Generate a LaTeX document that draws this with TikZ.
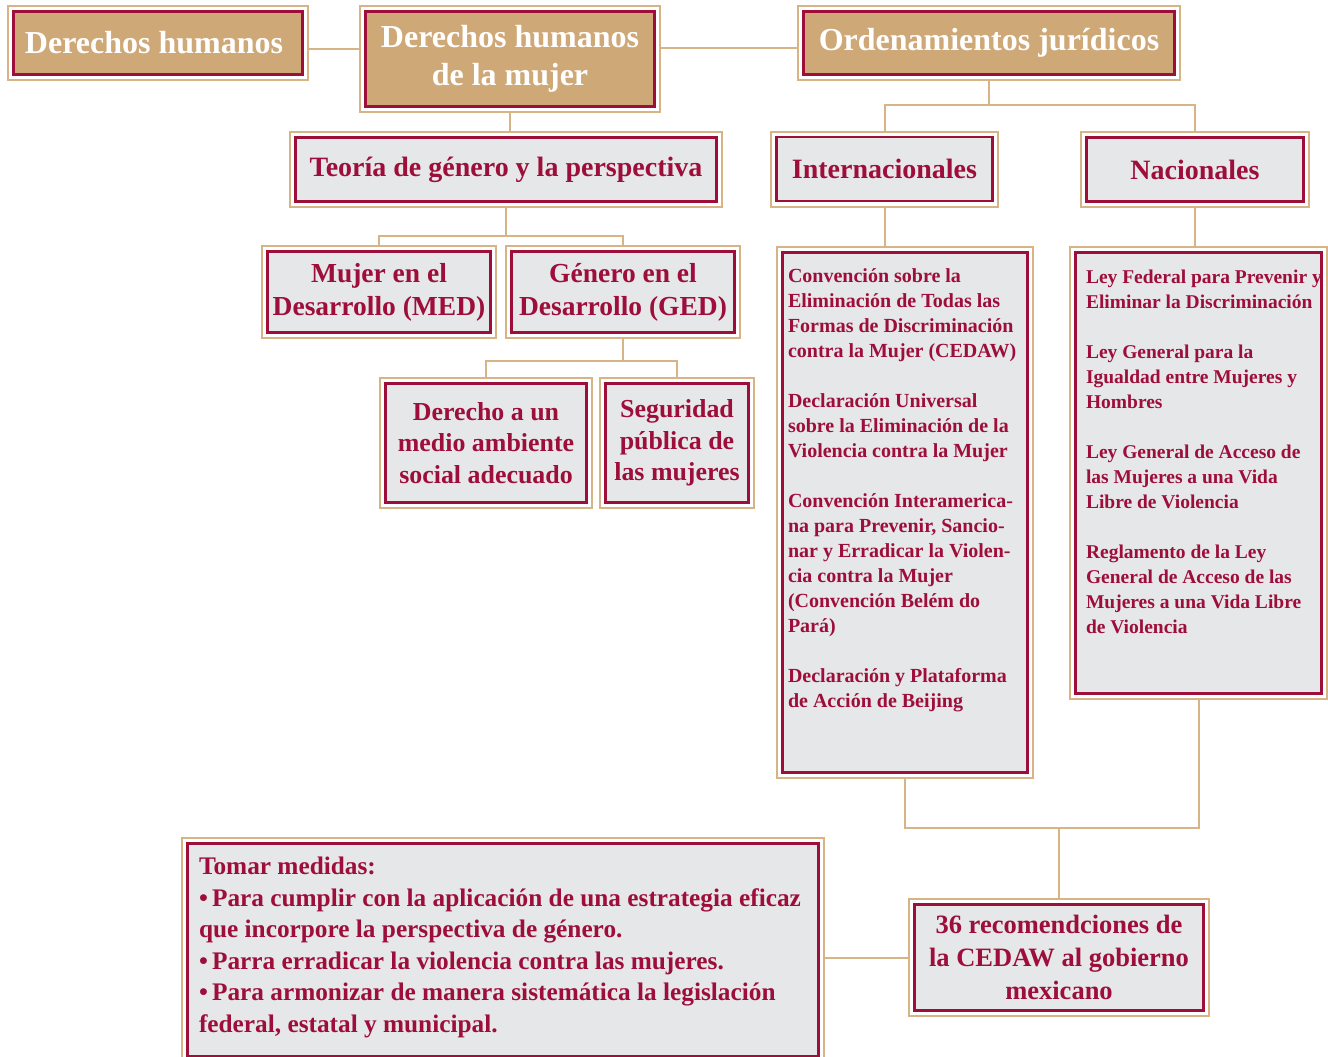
\documentclass[tikz,border=0pt]{standalone}
\usepackage{fontspec}
\setmainfont{Liberation Serif}
\definecolor{dred}{RGB}{158,14,58}
\definecolor{tanl}{RGB}{214,180,134}
\definecolor{tanf}{RGB}{207,168,119}
\definecolor{greyf}{RGB}{230,231,233}
\newcommand\ftitle{\bfseries\fontsize{32}{38}\selectfont}
\newcommand\fhead{\bfseries\fontsize{28}{32}\selectfont}
\newcommand\fmid{\bfseries\fontsize{27.5}{33}\selectfont}
\newcommand\frec{\bfseries\fontsize{26.5}{33}\selectfont}
\newcommand\fsmall{\bfseries\fontsize{25.9}{31.5}\selectfont}
\newcommand\ftom{\bfseries\fontsize{25.3}{31.5}\selectfont}
\newcommand\flist{\bfseries\fontsize{20}{25}\selectfont}
\newcommand\flistn{\bfseries\fontsize{19.5}{25}\selectfont}
\tikzset{
  bx/.style={draw=tanl, line width=2pt, fill=white, inner sep=0pt,
    path picture={\draw[draw=dred, line width=2.6pt, fill=#1]
      ([shift={(5.5pt,5.5pt)}]path picture bounding box.south west) rectangle
      ([shift={(-5.5pt,-5.5pt)}]path picture bounding box.north east);}},
  tbox/.style={bx=tanf, text=white, font=\ftitle, align=center},
  gbox/.style={bx=greyf, text=dred, align=center},
  cn/.style={draw=tanl, line width=2pt},
}
\begin{document}
\begin{tikzpicture}[x=1pt,y=-1pt]
\useasboundingbox (0,0) rectangle (1328,1057);
\clip (0,0) rectangle (1328,1057);
% top row
\node[tbox, minimum width=300pt, minimum height=74pt] (dh) at (158,43) {Derechos humanos\hspace*{8pt}};
\node[tbox, minimum width=300pt, minimum height=106pt] (dhm) at (510,59) {Derechos humanos\\de la mujer};
\node[tbox, minimum width=382pt, minimum height=74pt] (oj) at (989,43) {Ordenamientos jurídicos};
% second row
\node[gbox, font=\fhead, minimum width=432pt, minimum height=75pt] (teo) at (506,169.5) {Teoría de género y la perspectiva};
\node[gbox, font=\fhead, minimum width=227pt, minimum height=75pt] (int) at (884.5,169) {Internacionales};
\node[gbox, font=\fhead, minimum width=228pt, minimum height=75pt] (nac) at (1195,169.5) {Nacionales};
% third row
\node[gbox, font=\fmid, minimum width=234pt, minimum height=92pt] (med) at (379,292) {Mujer en el\\Desarrollo (MED)};
\node[gbox, font=\fmid, minimum width=234pt, minimum height=92pt] (ged) at (623,292) {Género en el\\Desarrollo (GED)};
\node[gbox, font=\fsmall, minimum width=212pt, minimum height=130pt] (der) at (486,443) {Derecho a un\\medio ambiente\\social adecuado};
\node[gbox, font=\fsmall, minimum width=154pt, minimum height=130pt] (seg) at (677,443) {Seguridad\\pública de\\las mujeres};
% lists
\node[bx=greyf, text=dred, font=\flist, inner xsep=11pt, inner ysep=22pt, anchor=north west] (intl) at (776,246)
  {\parbox[c][487pt][t]{234pt}{\raggedright
  Convención sobre la\\Eliminación de Todas las\\\mbox{Formas de Discriminación}\\\mbox{contra la Mujer (CEDAW)}\\[25pt]
  Declaración Universal\\\mbox{sobre la Eliminación de la}\\Violencia contra la Mujer\\[25pt]
  \mbox{Convención Interamerica-}\\\mbox{na para Prevenir, Sancio-}\\\mbox{nar y Erradicar la Violen-}\\cia contra la Mujer\\(Convención Belém do\\Pará)\\[25pt]
  \mbox{Declaración y Plataforma}\\de Acción de Beijing}};
\node[bx=greyf, text=dred, font=\flistn, inner xsep=16pt, inner ysep=23pt, anchor=north west] (nacl) at (1069,246)
  {\parbox[c][406pt][t]{225pt}{\raggedright
  \mbox{Ley Federal para Prevenir y}\\\mbox{Eliminar la Discriminación}\\[25pt]
  Ley General para la\\\mbox{Igualdad entre Mujeres y}\\Hombres\\[25pt]
  \mbox{Ley General de Acceso de}\\las Mujeres a una Vida\\Libre de Violencia\\[25pt]
  Reglamento de la Ley\\\mbox{General de Acceso de las}\\\mbox{Mujeres a una Vida Libre}\\de Violencia}};
% bottom
\node[bx=greyf, text=dred, font=\ftom, inner xsep=17pt, inner ysep=19pt, anchor=north west] (tom) at (181,837)
  {\parbox[c][186pt][t]{608pt}{\raggedright
  Tomar medidas:\\
  \mbox{•\,Para cumplir con la aplicación de una estrategia eficaz}\\
  que incorpore la perspectiva de género.\\
  •\,Parra erradicar la violencia contra las mujeres.\\
  \mbox{•\,Para armonizar de manera sistemática la legislación}\\
  federal, estatal y municipal.}};
\node[gbox, font=\frec, minimum width=300pt, minimum height=117pt] (rec) at (1059,957.5) {36 recomendciones de\\la CEDAW al gobierno\\mexicano};
% connectors
\draw[cn] ([yshift=-6pt]dh.east) -- ([yshift=-6pt]dh.east -| dhm.west);
\draw[cn] ([yshift=-5pt]oj.west) -- ([yshift=-5pt]oj.west -| dhm.east);
\draw[cn] (dhm.south) -- (dhm.south |- teo.north);
\coordinate (j1) at ([yshift=-23.5pt]oj.south);
\draw[cn] (oj.south) -- (j1);
\draw[cn] (int.north) |- (j1) -| (nac.north);
\coordinate (j2) at ([yshift=-28pt]teo.south);
\draw[cn] (teo.south) -- (j2);
\draw[cn] (med.north) |- (j2) -| (ged.north);
\coordinate (j3) at ([yshift=-22pt]ged.south);
\draw[cn] (ged.south) -- (j3);
\draw[cn] (der.north) |- (j3) -| (seg.north);
\draw[cn] (int.south) -- (int.south |- intl.north);
\draw[cn] (nac.south) -- (nac.south |- nacl.north);
\coordinate (j4) at ([yshift=-49pt]intl.south);
\draw[cn] (intl.south) -- (j4) -| (nacl.south);
\draw[cn] (rec.north) -- (rec.north |- j4);
\draw[cn] (rec.west) -- (rec.west -| tom.east);
\end{tikzpicture}
\end{document}
